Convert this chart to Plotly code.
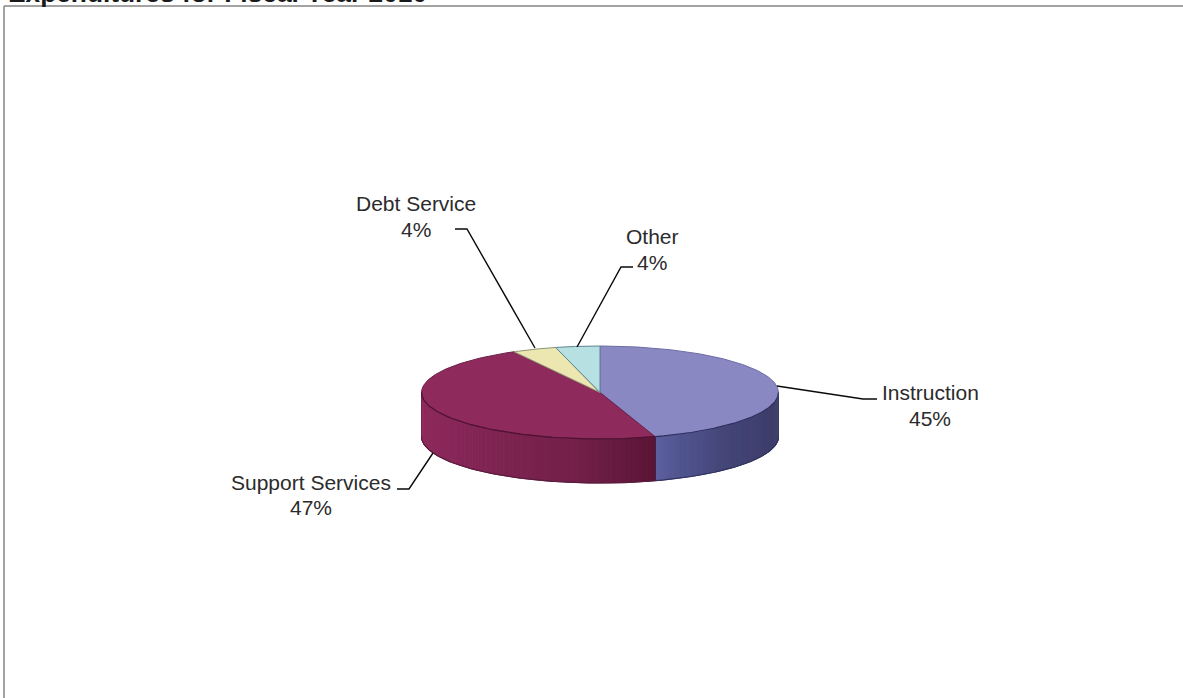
import numpy as np
import plotly.graph_objects as go

# Share of spending by category, clockwise from twelve o'clock
categories = ["Instruction", "Support Services", "Debt Service", "Other"]
percent_values = [45, 47, 4, 4]

title_text = "Expenditures for Fiscal Year 2010"

# Slice styling
top_colors = ["#8a88c3", "#8e2a5c", "#ece7b0", "#b7e0e3"]
outline_colors = ["#6c6ca6", "#6a1e46", "#8f9474", "#5f8490"]
front_rim_colors = ["#2f2f5c", "#4f1233", "#8f9474", "#5f8490"]

# Side-wall shading: (position across the front of the disc, colour)
side_shades = {
    "Instruction": [(0.00, (92, 96, 158)), (0.12, (80, 84, 142)), (0.35, (68, 70, 120)),
                    (0.70, (62, 62, 108)), (1.00, (66, 66, 112))],
    "Support Services": [(0.00, (146, 44, 94)), (0.25, (138, 40, 90)), (0.50, (126, 36, 82)),
                         (0.75, (116, 32, 74)), (0.92, (98, 24, 60)), (1.00, (90, 20, 52))],
}

# Disc geometry in page pixels
CX, CY = 600.0, 392.5
RX, RY = 178.5, 46.5
DEPTH = 44.0
STRIPS = 160

# Leader lines: category -> polyline from label to disc edge
leaders = {
    "Instruction": ([777, 863, 877], [386, 399, 399]),
    "Support Services": ([397, 409, 433], [489, 489, 453]),
    "Debt Service": ([455, 467, 535], [229, 229, 348]),
    "Other": ([633, 621, 577], [267, 267, 347]),
}
# Label centres: category -> (x, first line y, second line y)
label_positions = {
    "Instruction": (930, 392, 418),
    "Support Services": (311, 482, 507),
    "Debt Service": (416, 203, 229),
    "Other": (652, 236, 262),
}


def rim(theta):
    """Point on the top ellipse for a clockwise angle measured from twelve o'clock."""
    return CX + RX * np.sin(theta), CY - RY * np.cos(theta)


def shade_at(stops, t):
    pos = [s[0] for s in stops]
    rgb = [np.interp(t, pos, [s[1][i] for s in stops]) for i in range(3)]
    return "rgb(%d,%d,%d)" % tuple(int(round(c)) for c in rgb)


fig = go.Figure()

totals = np.cumsum([0] + percent_values) / sum(percent_values) * 2 * np.pi
spans = list(zip(totals[:-1], totals[1:]))

# Side wall: the visible part lies between 3 o'clock and 9 o'clock
for name, (a0, a1) in zip(categories, spans):
    lo, hi = max(a0, np.pi / 2), min(a1, 3 * np.pi / 2)
    if hi <= lo:
        continue
    stops = side_shades[name]
    edges = np.linspace(lo, hi, STRIPS + 1)
    for i in range(STRIPS):
        # Both slices get lighter away from the seam at the front
        if name == "Instruction":
            t = (hi - edges[i + 1]) / (hi - lo)
        else:
            t = 1 - (edges[i + 1] - lo) / (hi - lo)
        arc = np.linspace(edges[i], edges[i + 1], 3)
        x, y = rim(arc)
        xs = np.concatenate([x, x[::-1], x[:1]])
        ys = np.concatenate([y, (y + DEPTH)[::-1], y[:1]])
        color = shade_at(stops, t)
        fig.add_trace(go.Scatter(x=xs, y=ys, mode="lines", fill="toself", fillcolor=color,
                                 line=dict(color=color, width=1), hoverinfo="skip", showlegend=False))

# Dark outline along the bottom of the wall and at the seam between slices
for name, (a0, a1), edge in zip(categories, spans, ["#33335f", "#5a1c3c", "#000", "#000"]):
    lo, hi = max(a0, np.pi / 2), min(a1, 3 * np.pi / 2)
    if hi <= lo:
        continue
    arc = np.linspace(lo, hi, 120)
    x, y = rim(arc)
    fig.add_trace(go.Scatter(x=x, y=y + DEPTH, mode="lines", line=dict(color=edge, width=1.2),
                             hoverinfo="skip", showlegend=False))

seam_x, seam_y = rim(spans[0][1])
fig.add_trace(go.Scatter(x=[seam_x, seam_x], y=[seam_y, seam_y + DEPTH], mode="lines",
                         line=dict(color="#3e1a45", width=1), hoverinfo="skip", showlegend=False))
for edge_angle, color in [(np.pi / 2, "#3b3b68"), (3 * np.pi / 2, "#7a2450")]:
    ex, ey = rim(edge_angle)
    fig.add_trace(go.Scatter(x=[ex, ex], y=[ey, ey + DEPTH], mode="lines",
                             line=dict(color=color, width=1), hoverinfo="skip", showlegend=False))

# Top face, one wedge per category
for name, value, (a0, a1), fill, outline in zip(categories, percent_values, spans, top_colors, outline_colors):
    arc = np.linspace(a0, a1, 200)
    x, y = rim(arc)
    xs = np.concatenate([[CX], x, [CX]])
    ys = np.concatenate([[CY], y, [CY]])
    fig.add_trace(go.Scatter(x=xs, y=ys, mode="lines", fill="toself", fillcolor=fill,
                             line=dict(color=outline, width=1), name=name,
                             text=f"{name}: {value}%", hoverinfo="text", showlegend=False))

# Darker rim where the top face meets the wall
for (a0, a1), rim_color in zip(spans, front_rim_colors):
    lo, hi = max(a0, np.pi / 2), min(a1, 3 * np.pi / 2)
    if hi <= lo:
        continue
    x, y = rim(np.linspace(lo, hi, 120))
    fig.add_trace(go.Scatter(x=x, y=y, mode="lines", line=dict(color=rim_color, width=1.2),
                             hoverinfo="skip", showlegend=False))

# Leader lines
for name in categories:
    lx, ly = leaders[name]
    fig.add_trace(go.Scatter(x=lx, y=ly, mode="lines", line=dict(color="#0a0a0a", width=1.4),
                             hoverinfo="skip", showlegend=False))

# Two-line labels: category above, percentage below
annotations = []
LABEL_FONT = dict(family="Liberation Sans, Arial, sans-serif", size=21, color="#2b2b2b")
for name, value in zip(categories, percent_values):
    cx, y1, y2 = label_positions[name]
    for text, yy in [(name, y1), (f"{value}%", y2)]:
        annotations.append(dict(x=cx, y=yy, xref="x", yref="y", text=text, showarrow=False,
                                xanchor="center", yanchor="middle", font=LABEL_FONT))

# Heading sits at the very top of the page, partly cut off by the page edge
annotations.append(dict(x=6, y=10, xref="x", yref="y", text=f"<b>{title_text}</b>", showarrow=False,
                        xanchor="left", yanchor="bottom",
                        font=dict(family="Liberation Sans, Arial, sans-serif", size=26.3, color="#1a1a1a")))

fig.update_layout(
    width=1183, height=698, margin=dict(l=0, r=0, t=0, b=0),
    paper_bgcolor="white", plot_bgcolor="white", showlegend=False,
    xaxis=dict(range=[0, 1183], visible=False, fixedrange=True),
    yaxis=dict(range=[698, 0], visible=False, fixedrange=True),
    annotations=annotations,
    shapes=[
        dict(type="line", xref="x", yref="y", x0=4, x1=4, y0=6, y1=698, line=dict(color="#858585", width=1.5)),
        dict(type="line", xref="x", yref="y", x0=4, x1=1183, y0=6, y1=6, line=dict(color="#858585", width=1.5)),
    ],
)

fig.write_html("out.html", config=dict(displayModeBar=False))
